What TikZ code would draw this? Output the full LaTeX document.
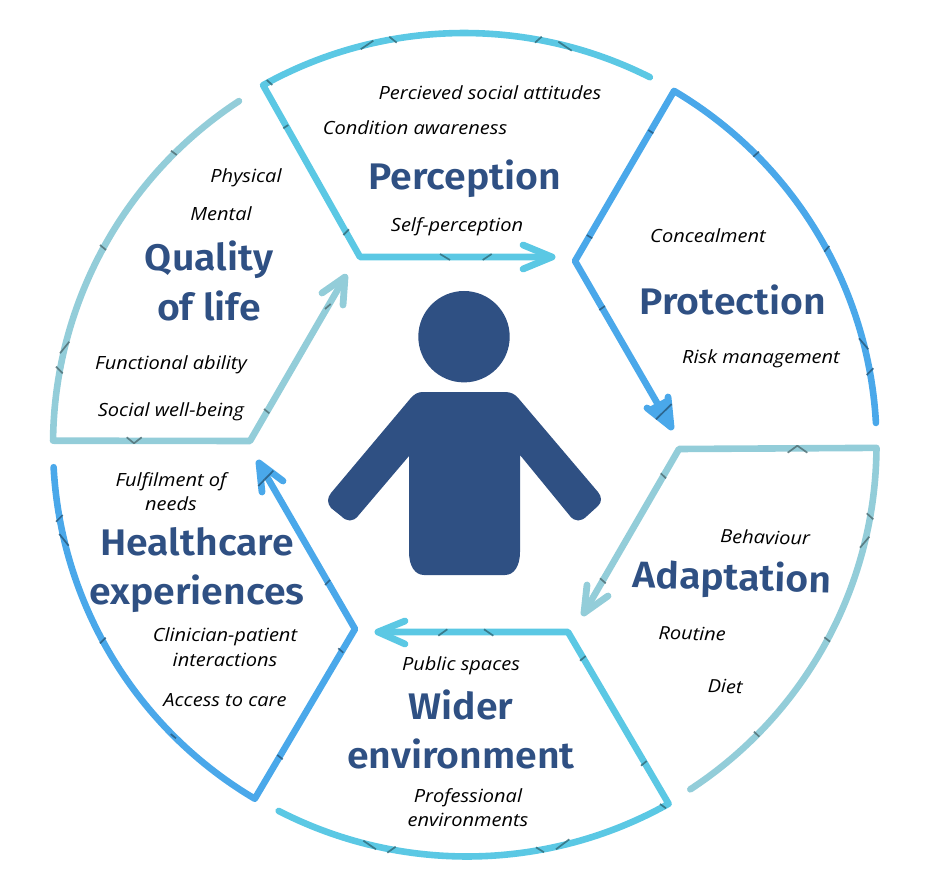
\documentclass[tikz,border=0pt]{standalone}
\usepackage{fontspec}
\setmainfont{Open Sans}[ItalicFeatures={FakeStretch=1.1}]
\newfontfamily\titlefont{Fira Sans}[UprightFont=* SemiBold,FakeStretch=1.06]
\definecolor{sky}{HTML}{5BC8E4}
\definecolor{azure}{HTML}{4AA8EA}
\definecolor{teal}{HTML}{93CDD9}
\definecolor{navy}{HTML}{2F5083}
\tikzset{
  ring/.style={draw=#1,line width=6.6pt,line cap=round,line join=round,fill=none},
  arrowbarb/.style={draw=#1,line width=6.8pt,line cap=round,line join=round,fill=none},
  tickmark/.style={draw=#1!55!black,line width=1.7pt,line cap=butt,opacity=.85},
  heading/.style={font=\titlefont\fontsize{37}{50}\selectfont,text=navy,anchor=base,inner sep=0pt},
  item/.style={font=\itshape\fontsize{18.2}{24.5}\selectfont,text=black,anchor=base,inner sep=0pt}
}
\begin{document}
\begin{tikzpicture}[x=1pt,y=1pt,yscale=-1]
\useasboundingbox (0,0) rectangle (942,890);
% centres and vertices
\coordinate (c1) at (464,446);
\coordinate (c2) at (464,446);
\coordinate (c3) at (465,445);
\coordinate (c4) at (467,444.5);
\coordinate (c5) at (464,445);
\coordinate (c6) at (464,445);
\coordinate (pA) at (360,257);   \coordinate (pT) at (552,257);
\coordinate (pB) at (523,245);   \coordinate (pC) at (523,269);
\coordinate (rA) at (575,261);   \coordinate (rT) at (671,427);
\coordinate (rB) at (647,408);   \coordinate (rC) at (668,397);
\coordinate (aS) at (877,449);   \coordinate (aA) at (679,449);  \coordinate (aT) at (584,613);
\coordinate (aB) at (587,585);   \coordinate (aC) at (608,596);
\coordinate (wA) at (568,632);   \coordinate (wT) at (378,632);
\coordinate (wB) at (405,621);   \coordinate (wC) at (405,644);
\coordinate (hA) at (355,629);   \coordinate (hT) at (259,463);
\coordinate (hB) at (262,492);   \coordinate (hC) at (283,481);
\coordinate (qS) at (53,441);    \coordinate (qA) at (250,441);  \coordinate (qT) at (345,277);
\coordinate (qB) at (322,293);   \coordinate (qC) at (343,305);
% Perception
\draw[ring=sky] ([shift={(-63.25:413)}]c1) arc[start angle=-63.25,end angle=-119.11,radius=413] -- (pA) -- (pT);
\draw[arrowbarb=sky] (pB) -- (pT) -- (pC);
% Protection
\draw[ring=azure] ([shift={(-3.2:412.6)}]c2) arc[start angle=-3.2,end angle=-59.39,radius=412.6] -- (rA) -- (rT);
\draw[arrowbarb=azure,fill=azure] (rB) -- (rT) -- (rC);
% Adaptation
\draw[ring=teal] ([shift={(56.8:411.5)}]c3) arc[start angle=56.8,end angle=0.4,radius=411.5] -- (aA) -- (aT);
\draw[arrowbarb=teal] (aB) -- (aT) -- (aC);
% Wider environment
\draw[ring=sky] ([shift={(117.2:412)}]c4) arc[start angle=117.2,end angle=60.7,radius=412] -- (wA) -- (wT);
\draw[arrowbarb=sky] (wB) -- (wT) -- (wC);
% Healthcare
\draw[ring=azure] ([shift={(176.9:411)}]c5) arc[start angle=176.9,end angle=120.6,radius=411] -- (hA) -- (hT);
\draw[arrowbarb=azure] (hB) -- (hT) -- (hC);
% Quality of life
\draw[ring=teal] ([shift={(236.8:411)}]c6) arc[start angle=236.8,end angle=180.6,radius=411] -- (qA) -- (qT);
\draw[arrowbarb=teal] (qB) -- (qT) -- (qC);
% ticks
\foreach \ax/\ay/\bx/\by in {360.7/49.3/373.3/40.7,389.3/36.7/396.7/42.7,535/42.7/541.7/36.7,558.3/41.7/571.7/50.7,266.7/80/272.3/85,283.3/128.3/288.3/125,343.3/235/349/229.3,440/254/450/260,482.7/260/491.7/254,
 438.3/635.7/447.3/629.3,484/629.3/493.3/635.7,580/660.7/585.7/656,641/765.7/646.7/761,660/804/666/808.3,363.3/840.7/376/849.3,387.3/852.7/395.7/846.7,536/847.3/544/852.3,556/849.3/569.3/839.3}
  \draw[tickmark=sky] (\ax,\ay) -- (\bx,\by);
\foreach \ax/\ay/\bx/\by in {648.3/130/653.3/133.3,586.7/235/592.3/238.3,599.3/310/605/306,656/419.3/671.7/404,753.3/156.7/759/151.7,824.3/251.7/829.3/246,859/338.3/868.3/349.3,866.7/375/873.3/368.3,
 56/521.7/62.7/515,59.3/534/68.7/545.7,100/643.3/105.7/637.7,170.7/734/176/738.3,277.3/755/282.7/759.3,338.3/648.3/343.3/652.7,325/585/330/580,258.3/486/273.3/470.7}
  \draw[tickmark=azure] (\ax,\ay) -- (\bx,\by);
\foreach \ax/\ay/\bx/\by in {866.7/513.3/873.3/519.3,860/547.7/869.3/536.7,824.3/637.3/830/641.7,754/731.7/759.3/736.7,660.7/473.3/666/478.3,600/578.3/605.7/583.3,
 56/366.7/62.7/373.3,60/353.3/69.3/341.7,100/245/106/250,171/150.7/176.7/155,264/409/269.3/413.3,325/309/330.7/304}
  \draw[tickmark=teal] (\ax,\ay) -- (\bx,\by);
\draw[tickmark=teal,line join=round] (787.7,452.7) -- (797.3,445.7) -- (807.3,452.7);
\draw[tickmark=teal,line join=round] (126.7,437.3) -- (134,443.3) -- (141.7,437.3);
% person
\fill[navy] (464,336.7) circle[radius=45.7];
\fill[navy] (423,392) -- (505,392)
  .. controls (511,392) and (515,394) .. (519,399)
  -- (598,492) .. controls (602,497) and (602,502) .. (598,506)
  -- (587,516) .. controls (581,522) and (575,522) .. (570,516)
  -- (520,455) -- (520,552)
  .. controls (520,566) and (514,575) .. (505,575)
  -- (424,575) .. controls (415,575) and (409,566) .. (409,552)
  -- (409,456) -- (358,516)
  .. controls (353,522) and (347,522) .. (341,516)
  -- (331,508) .. controls (327,503) and (327,498) .. (331,493)
  -- (410,399) .. controls (414,394) and (418,392) .. (423,392) -- cycle;
% headings
\node[heading] (tPer) at (465,190) {Perception};
\node[heading] (tPro) at (733,314.5) {Protection};
\node[heading,rotate=-1.5] (tAda) at (732,590) {Adaptation};
\node[heading] (tWid) at (461,719) {Wider};
\node[heading] (tEnv) at (461,768) {environment};
\node[heading] (tHea) at (197,555) {Healthcare};
\node[heading] (tExp) at (197,604) {experiences};
\node[heading] (tQua) at (209,271) {Quality};
\node[heading] (tLif) at (209,321) {of life};
% items
\node[item] (i1) at (490,100) {Percieved social attitudes};
\node[item] (i2) at (415,135) {Condition awareness};
\node[item] (i3) at (457,231.5) {Self-perception};
\node[item] (i4) at (708,242.5) {Concealment};
\node[item] (i5) at (761,363.5) {Risk management};
\node[item,rotate=-1.5] (i6) at (765,544) {Behaviour};
\node[item,rotate=-1.5] (i7) at (692,640) {Routine};
\node[item,rotate=-1.5] (i8) at (725,693) {Diet};
\node[item] (i9) at (461,670.7) {Public spaces};
\node[item] (i10) at (468,802.7) {Professional};
\node[item] (i10b) at (468,826.5) {environments};
\node[item] (i11) at (171,486.7) {Fulfilment of};
\node[item] (i11b) at (171,510.5) {needs};
\node[item] (i12) at (225,641) {Clinician-patient};
\node[item] (i12b) at (225,666) {interactions};
\node[item] (i13) at (225,706.5) {Access to care};
\node[item] (i14) at (246,183) {Physical};
\node[item] (i15) at (221,221) {Mental};
\node[item] (i16) at (171,370) {Functional ability};
\node[item] (i17) at (171,416) {Social well-being};
\end{tikzpicture}
\end{document}
